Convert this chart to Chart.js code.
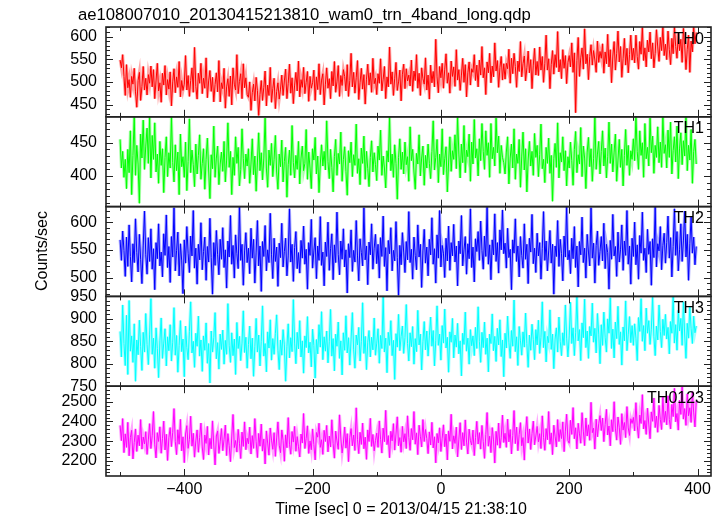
<!DOCTYPE html>
<html>
<head>
<meta charset="utf-8">
<title>ae108007010 WAM light curves</title>
<script src="https://cdn.jsdelivr.net/npm/chart.js@4.4.1/dist/chart.umd.min.js"></script>
<style>
  html, body { margin: 0; padding: 0; background: #fff; }
  #wrap { width: 724px; height: 516px; position: relative; }
</style>
</head>
<body>
<div id="wrap"><canvas id="lc-chart"></canvas></div>
<script>
// start: Data
const panelNames = ['TH0', 'TH1', 'TH2', 'TH3', 'TH0123']
const startTime = -500   // first bin [sec]
const binSize = 2        // bin width [sec]

const xTicks = [-400, -200, 0, 200, 400]
const th0Ticks = [450, 500, 550, 600]
const th1Ticks = [400, 450]
const th2Ticks = [500, 550, 600]
const th3Ticks = [750, 800, 850, 900, 950]
const th0123Ticks = [2200, 2300, 2400, 2500]

const th0Range = [423, 621]
const th1Range = [354, 489]
const th2Range = [466, 628]
const th3Range = [750, 950]
const th0123Range = [2122, 2580]

// counts/sec per bin, 25 bins (50 s) per row
const th0 = [
    548, 531, 560, 512, 470, 538, 487, 505, 466, 512, 495, 530, 478, 444, 503, 521, 459, 490, 534, 482, 508, 471, 516, 497, 535,
    489, 527, 463, 502, 541, 480, 498, 455, 519, 493, 536, 471, 505, 484, 522, 447, 500, 529, 476, 511, 488, 545, 467, 503, 481,
    495, 558, 482, 514, 468, 503, 531, 477, 576, 490, 462, 519, 497, 541, 474, 508, 486, 553, 465, 502, 525, 479, 510, 456, 494,
    520, 478, 547, 456, 498, 485, 530, 442, 489, 507, 468, 513, 449, 531, 495, 482, 560, 474, 501, 518, 463, 540, 487, 509, 472,
    466, 500, 437, 476, 495, 458, 510, 481, 426, 472, 503, 459, 488, 524, 447, 493, 470, 532, 455, 485, 508, 441, 479, 498, 462,
    484, 515, 470, 502, 528, 463, 497, 539, 475, 509, 452, 493, 521, 480, 546, 467, 505, 488, 532, 474, 499, 523, 457, 512, 486,
    498, 526, 459, 511, 483, 540, 472, 504, 518, 449, 495, 531, 486, 507, 463, 523, 491, 545, 477, 500, 536, 468, 514, 492, 527,
    512, 480, 538, 468, 503, 563, 489, 521, 475, 509, 547, 461, 498, 530, 484, 516, 451, 506, 539, 493, 520, 477, 552, 496, 508,
    472, 518, 497, 551, 480, 506, 534, 463, 511, 489, 577, 495, 522, 470, 508, 543, 481, 500, 526, 458, 517, 539, 485, 529, 502,
    515, 491, 548, 479, 524, 503, 560, 486, 519, 470, 531, 507, 495, 553, 482, 515, 462, 537, 498, 523, 489, 594, 511, 476, 534,
    509, 541, 486, 528, 562, 497, 520, 475, 546, 512, 533, 490, 571, 504, 527, 481, 515, 552, 499, 538, 467, 520, 544, 493, 529,
    521, 560, 503, 537, 489, 548, 515, 578, 509, 531, 472, 544, 520, 563, 498, 535, 511, 586, 524, 547, 488, 532, 556, 504, 540,
    506, 541, 529, 572, 497, 552, 518, 563, 534, 488, 546, 523, 589, 511, 540, 557, 502, 531, 568, 520, 549, 485, 537, 574, 515,
    545, 514, 577, 526, 556, 499, 541, 603, 526, 551, 485, 538, 569, 517, 560, 532, 611, 522, 549, 507, 571, 530, 558, 496, 543,
    558, 533, 586, 521, 564, 432, 547, 598, 512, 553, 575, 528, 617, 540, 561, 505, 556, 582, 537, 569, 548, 521, 590, 543, 567,
    552, 584, 519, 566, 540, 605, 533, 571, 498, 557, 589, 526, 563, 612, 544, 578, 510, 551, 596, 537, 574, 520, 560, 603, 548,
    574, 542, 603, 556, 528, 589, 561, 620, 547, 575, 533, 592, 566, 610, 551, 586, 531, 563, 615, 577, 545, 598, 569, 621, 558,
    583, 549, 612, 571, 538, 596, 562, 621, 578, 552, 607, 569, 594, 543, 618, 581, 527, 572, 603, 521, 590, 566, 621, 584, 609
]
const th1 = [
    455, 412, 437, 398, 425, 381, 440, 405, 468, 372, 431, 489, 401, 446, 418, 359, 463, 427, 484, 410, 445, 472, 419, 489, 397,
    461, 425, 480, 406, 433, 389, 452, 416, 441, 375, 428, 459, 399, 435, 412, 489, 420, 391, 447, 408, 436, 372, 463, 414, 429,
    398, 451, 378, 422, 486, 405, 439, 417, 384, 448, 403, 431, 462, 395, 419, 441, 380, 425, 457, 409, 366, 432, 411, 475, 398,
    427, 445, 387, 418, 436, 407, 452, 391, 424, 480, 413, 437, 372, 428, 401, 459, 419, 443, 385, 410, 471, 426, 396, 433, 415,
    441, 389, 418, 456, 402, 430, 377, 421, 465, 408, 435, 394, 427, 487, 412, 383, 439, 416, 449, 399, 425, 461, 406, 380, 433,
    414, 454, 391, 422, 443, 368, 417, 439, 401, 476, 420, 397, 431, 410, 452, 388, 427, 445, 408, 419, 470, 395, 436, 412, 381,
    441, 424, 458, 403, 430, 375, 418, 447, 415, 437, 409, 483, 422, 396, 440, 413, 376, 429, 455, 401, 434, 418, 466, 392, 425,
    444, 407, 371, 438, 420, 451, 399, 432, 416, 478, 404, 426, 387, 442, 419, 460, 395, 437, 411, 384, 428, 453, 406, 435, 417,
    393, 445, 424, 469, 401, 430, 412, 382, 438, 421, 489, 408, 433, 398, 447, 419, 365, 428, 456, 410, 436, 403, 451, 417, 429,
    392, 474, 423, 440, 406, 380, 434, 418, 462, 400, 427, 445, 386, 431, 412, 448, 419, 396, 437, 483, 409, 428, 455, 390, 433,
    414, 471, 402, 426, 444, 376, 421, 459, 407, 438, 425, 462, 411, 489, 433, 397, 448, 420, 476, 405, 439, 429, 463, 392, 451,
    418, 485, 427, 441, 400, 456, 423, 479, 437, 410, 468, 431, 450, 398, 479, 426, 443, 415, 487, 435, 460, 404, 446, 428, 420,
    403, 436, 459, 388, 427, 448, 412, 471, 395, 433, 419, 455, 383, 430, 466, 409, 441, 376, 424, 452, 415, 437, 401, 464, 428,
    446, 399, 432, 478, 411, 425, 390, 443, 419, 457, 404, 431, 362, 426, 449, 413, 480, 397, 435, 421, 459, 408, 438, 385, 429,
    412, 451, 423, 386, 440, 467, 405, 432, 418, 473, 399, 445, 427, 381, 436, 458, 414, 441, 392, 426, 489, 410, 433, 452, 403,
    437, 468, 415, 442, 397, 429, 481, 419, 448, 406, 436, 463, 392, 424, 455, 413, 440, 385, 431, 470, 416, 446, 401, 438, 425,
    456, 423, 489, 437, 410, 468, 431, 450, 398, 479, 426, 443, 415, 487, 435, 460, 404, 446, 428, 474, 420, 451, 413, 489, 434,
    447, 412, 469, 428, 481, 403, 438, 459, 421, 475, 396, 442, 465, 417, 453, 430, 489, 408, 446, 424, 470, 389, 437, 455, 418
]
const th2 = [
    568, 531, 584, 549, 502, 573, 520, 595, 538, 492, 561, 527, 606, 545, 510, 578, 533, 489, 557, 620, 541, 506, 572, 529, 588,
    515, 552, 478, 563, 534, 597, 521, 546, 501, 579, 540, 613, 518, 556, 491, 574, 537, 626, 512, 549, 582, 503, 561, 530, 471,
    568, 526, 592, 544, 509, 575, 539, 621, 517, 553, 488, 560, 532, 599, 514, 547, 573, 495, 556, 528, 607, 536, 470, 563, 522,
    585, 541, 505, 569, 533, 590, 518, 550, 481, 566, 537, 612, 524, 558, 499, 577, 543, 516, 628, 531, 560, 486, 548, 581, 527,
    553, 507, 589, 535, 569, 490, 546, 603, 521, 557, 475, 565, 538, 594, 512, 550, 527, 616, 541, 498, 571, 529, 555, 484, 562,
    536, 598, 519, 547, 571, 503, 539, 624, 528, 560, 493, 554, 583, 516, 545, 508, 567, 535, 593, 524, 551, 479, 563, 540, 605,
    517, 548, 572, 498, 557, 531, 610, 522, 546, 485, 564, 538, 600, 513, 552, 579, 496, 559, 527, 618, 542, 505, 566, 533, 588,
    519, 550, 472, 561, 536, 586, 511, 549, 528, 603, 539, 494, 570, 545, 521, 626, 532, 557, 487, 564, 541, 597, 515, 553, 578,
    525, 560, 499, 572, 538, 611, 520, 554, 476, 567, 543, 590, 512, 549, 530, 601, 536, 468, 558, 523, 581, 546, 509, 565, 532,
    619, 527, 551, 497, 573, 540, 514, 595, 537, 560, 482, 548, 587, 526, 555, 503, 569, 541, 608, 524, 552, 490, 577, 535, 621,
    519, 558, 544, 500, 571, 530, 593, 513, 563, 539, 596, 528, 557, 485, 566, 543, 612, 521, 550, 574, 506, 561, 534, 624, 518,
    555, 492, 570, 547, 583, 531, 602, 549, 515, 575, 538, 627, 524, 559, 496, 568, 541, 615, 529, 563, 508, 586, 550, 622, 543,
    562, 517, 589, 536, 551, 478, 568, 544, 606, 529, 557, 501, 574, 540, 517, 597, 533, 560, 489, 571, 546, 614, 525, 553, 509,
    580, 539, 563, 497, 552, 619, 531, 566, 512, 548, 585, 526, 560, 470, 557, 538, 603, 520, 569, 543, 494, 575, 537, 628, 532,
    549, 507, 571, 534, 592, 518, 557, 483, 565, 541, 609, 527, 553, 499, 578, 546, 521, 626, 535, 562, 490, 558, 584, 522, 547,
    574, 530, 598, 516, 560, 545, 479, 567, 533, 614, 539, 556, 502, 582, 528, 550, 595, 513, 566, 540, 621, 524, 557, 488, 571,
    538, 600, 523, 559, 497, 576, 544, 618, 531, 553, 509, 587, 542, 565, 486, 570, 536, 627, 519, 561, 548, 592, 514, 558, 580,
    526, 563, 611, 535, 572, 501, 556, 624, 540, 583, 512, 550, 597, 529, 566, 620, 537, 578, 495, 561, 609, 544, 573, 523, 556
]
const th3 = [
    872, 815, 931, 845, 796, 908, 776, 941, 828, 862, 803, 889, 761, 853, 820, 897, 838, 785, 870, 826, 912, 843, 798, 866, 945,
    821, 857, 790, 880, 834, 769, 851, 902, 812, 846, 878, 795, 860, 829, 887, 806, 848, 925, 819, 863, 781, 841, 896, 827, 855,
    771, 884, 836, 809, 872, 938, 824, 850, 792, 868, 839, 906, 817, 853, 783, 862, 830, 891, 801, 845, 757, 873, 826, 858, 914,
    811, 847, 788, 866, 832, 875, 799, 852, 821, 934, 840, 803, 869, 818, 855, 776, 892, 834, 861, 807, 846, 918, 825, 859, 790,
    843, 884, 811, 857, 772, 838, 901, 826, 864, 795, 850, 929, 817, 845, 782, 871, 835, 898, 808, 856, 821, 867, 909, 830, 787,
    853, 819, 876, 842, 761, 838, 889, 813, 858, 827, 943, 846, 800, 870, 833, 896, 815, 851, 779, 862, 836, 905, 824, 848, 793,
    877, 841, 768, 854, 822, 887, 837, 916, 809, 860, 828, 873, 802, 849, 921, 817, 856, 784, 866, 839, 893, 812, 851, 775, 869,
    830, 907, 824, 858, 797, 855, 914, 831, 790, 864, 842, 881, 806, 850, 936, 823, 861, 787, 848, 874, 815, 859, 831, 902, 819,
    846, 878, 801, 863, 834, 949, 826, 857, 780, 870, 841, 896, 818, 852, 765, 867, 837, 910, 829, 861, 884, 823, 858, 932, 845,
    806, 869, 838, 883, 799, 856, 827, 919, 842, 866, 786, 849, 894, 831, 873, 817, 862, 904, 839, 874, 795, 852, 929, 841, 866,
    808, 885, 846, 922, 835, 859, 781, 871, 848, 901, 813, 864, 837, 890, 822, 851, 773, 868, 843, 915, 828, 857, 799, 876, 840,
    862, 818, 881, 834, 927, 849, 803, 870, 836, 893, 821, 857, 782, 866, 845, 911, 829, 861, 805, 879, 842, 898, 816, 853, 771,
    868, 835, 906, 848, 812, 874, 839, 942, 827, 860, 796, 883, 851, 819, 871, 837, 913, 845, 792, 864, 830, 888, 854, 809, 876,
    842, 897, 823, 859, 938, 836, 872, 804, 861, 847, 920, 832, 866, 789, 855, 880, 826, 904, 850, 818, 869, 841, 931, 857, 815,
    862, 937, 845, 880, 818, 869, 949, 851, 876, 807, 891, 858, 944, 836, 873, 812, 883, 862, 935, 848, 879, 824, 912, 866, 800,
    887, 841, 915, 859, 826, 900, 868, 947, 834, 877, 813, 893, 856, 928, 843, 871, 797, 882, 851, 940, 829, 866, 905, 847, 885,
    841, 889, 857, 807, 903, 872, 945, 850, 885, 829, 924, 868, 896, 843, 877, 948, 860, 818, 884, 853, 931, 872, 836, 899, 863,
    910, 855, 881, 822, 894, 868, 949, 846, 887, 830, 919, 873, 901, 841, 938, 864, 812, 890, 857, 927, 878, 845, 906, 869, 884
]
const th0123 = [
    2380, 2302, 2415, 2241, 2337, 2268, 2396, 2225, 2318, 2355, 2209, 2293, 2362, 2247, 2330, 2276, 2410, 2259, 2321, 2285, 2348, 2232, 2306, 2389, 2262,
    2327, 2451, 2281, 2214, 2343, 2298, 2373, 2238, 2312, 2402, 2255, 2335, 2201, 2317, 2369, 2272, 2345, 2466, 2297, 2231, 2358, 2284, 2411, 2250, 2322,
    2190, 2336, 2379, 2263, 2308, 2427, 2274, 2340, 2218, 2301, 2357, 2243, 2319, 2392, 2270, 2206, 2331, 2288, 2375, 2229, 2314, 2261, 2403, 2280, 2178,
    2326, 2352, 2237, 2296, 2364, 2251, 2309, 2382, 2226, 2338, 2277, 2195, 2321, 2436, 2267, 2303, 2244, 2360, 2289, 2211, 2346, 2273, 2398, 2256, 2315,
    2286, 2371, 2234, 2328, 2263, 2415, 2297, 2216, 2339, 2274, 2387, 2249, 2311, 2183, 2352, 2290, 2228, 2367, 2305, 2258, 2343, 2222, 2316, 2398, 2279,
    2241, 2357, 2304, 2197, 2332, 2266, 2420, 2284, 2233, 2349, 2295, 2375, 2248, 2323, 2271, 2219, 2336, 2290, 2441, 2262, 2313, 2378, 2237, 2301, 2256,
    2362, 2282, 2204, 2344, 2320, 2391, 2268, 2307, 2232, 2355, 2298, 2380, 2245, 2326, 2270, 2409, 2288, 2213, 2351, 2301, 2258, 2434, 2316, 2239, 2290,
    2372, 2264, 2338, 2195, 2319, 2364, 2276, 2331, 2252, 2470, 2307, 2236, 2345, 2283, 2392, 2261, 2320, 2207, 2357, 2298, 2416, 2273, 2334, 2250, 2303,
    2341, 2268, 2403, 2309, 2239, 2366, 2297, 2457, 2282, 2328, 2215, 2350, 2301, 2389, 2254, 2336, 2424, 2276, 2318, 2243, 2375, 2296, 2338, 2262, 2429,
    2319, 2253, 2364, 2307, 2451, 2284, 2342, 2231, 2381, 2325, 2270, 2410, 2298, 2359, 2313, 2236, 2347, 2280, 2396, 2265, 2322, 2189, 2339, 2291, 2368,
    2247, 2315, 2383, 2271, 2336, 2204, 2352, 2299, 2437, 2260, 2327, 2288, 2371, 2219, 2310, 2394, 2257, 2343, 2276, 2408, 2295, 2234, 2361, 2302, 2280,
    2356, 2226, 2318, 2401, 2285, 2343, 2259, 2380, 2297, 2212, 2333, 2446, 2274, 2325, 2241, 2369, 2306, 2188, 2350, 2279, 2392, 2264, 2317, 2433, 2293,
    2340, 2268, 2412, 2296, 2359, 2235, 2328, 2456, 2287, 2371, 2251, 2333, 2394, 2276, 2318, 2203, 2347, 2425, 2290, 2362, 2257, 2338, 2402, 2281, 2326,
    2375, 2296, 2338, 2262, 2429, 2319, 2253, 2364, 2307, 2451, 2284, 2342, 2231, 2381, 2325, 2270, 2410, 2298, 2359, 2313, 2398, 2246, 2351, 2437, 2303,
    2289, 2406, 2334, 2471, 2312, 2368, 2260, 2391, 2337, 2289, 2445, 2351, 2277, 2418, 2326, 2383, 2304, 2498, 2343, 2366, 2259, 2412, 2322, 2388, 2430,
    2354, 2418, 2297, 2385, 2462, 2331, 2377, 2276, 2409, 2348, 2501, 2362, 2305, 2423, 2371, 2283, 2440, 2356, 2395, 2318, 2476, 2367, 2329, 2414, 2390,
    2421, 2352, 2496, 2378, 2315, 2433, 2390, 2537, 2362, 2405, 2334, 2468, 2387, 2312, 2449, 2401, 2520, 2369, 2427, 2345, 2482, 2410, 2359, 2528, 2396,
    2452, 2383, 2531, 2410, 2362, 2487, 2425, 2569, 2398, 2441, 2356, 2508, 2436, 2577, 2412, 2466, 2380, 2541, 2429, 2470, 2395, 2553, 2448, 2372, 2506
]
// end: Data

const times = th0.map((v, i) => startTime + i * binSize)

const series = [th0, th1, th2, th3, th0123]
const panelTicks = [th0Ticks, th1Ticks, th2Ticks, th3Ticks, th0123Ticks]
const panelRanges = [th0Range, th1Range, th2Range, th3Range, th0123Range]
const panelColors = ['#ff0000', '#00ff00', '#0000ff', '#00ffff', '#ff00ff']
const panelTints = ['rgba(255,0,0,0.35)', 'rgba(0,255,0,0.35)', 'rgba(0,0,255,0.35)', 'rgba(0,255,255,0.35)', 'rgba(255,0,255,0.35)']
const minorSteps = [10, 10, 10, 10, 20]
const panelIds = panelNames.map((n, i) => 'y' + i)

const fontFamily = '"Liberation Sans", Arial, Helvetica, sans-serif'
Chart.defaults.font.family = fontFamily
Chart.defaults.font.size = 16
Chart.defaults.color = '#000'

// start: Frame, inner ticks and labels (qdp style)
const qdpFrame = {
    id: 'qdpFrame',
    afterDraw(chart) {
        const ctx = chart.ctx
        const area = chart.chartArea
        const xScale = chart.scales.x
        ctx.save()

        panelIds.forEach((id, i) => {
            const s = chart.scales[id]
            const top = s.top
            const bottom = s.bottom

            ctx.strokeStyle = '#222'
            ctx.lineWidth = 1
            ctx.beginPath()
            for (let t = -500; t <= 400; t += 100) {
                const px = Math.round(xScale.getPixelForValue(t)) + 0.5
                const len = t % 200 === 0 ? 7 : 4
                ctx.moveTo(px, bottom)
                ctx.lineTo(px, bottom - len)
                ctx.moveTo(px, top)
                ctx.lineTo(px, top + len)
            }
            const step = minorSteps[i]
            const majors = panelTicks[i]
            for (let v = Math.ceil(s.min / step) * step; v <= s.max; v += step) {
                const py = Math.round(s.getPixelForValue(v)) + 0.5
                const len = majors.includes(v) ? 7 : 4
                ctx.moveTo(area.left, py)
                ctx.lineTo(area.left + len, py)
                ctx.moveTo(area.right, py)
                ctx.lineTo(area.right - len, py)
            }
            ctx.stroke()

            ctx.lineWidth = 1.6
            ctx.strokeRect(area.left, top, area.right - area.left, bottom - top)

            ctx.fillStyle = '#000'
            ctx.font = '16px ' + fontFamily
            ctx.textAlign = 'right'
            ctx.textBaseline = 'alphabetic'
            ctx.fillText(panelNames[i], area.right - 7, top + 16.5)
        })

        ctx.fillStyle = '#000'
        ctx.font = '16.7px ' + fontFamily
        ctx.textAlign = 'left'
        ctx.fillText('ae108007010_20130415213810_wam0_trn_4band_long.qdp', 78, 20)

        ctx.font = '16px ' + fontFamily
        ctx.textAlign = 'center'
        ctx.fillText('Time [sec] 0 = 2013/04/15 21:38:10', 401, 514)

        ctx.translate(47, 251)
        ctx.rotate(-Math.PI / 2)
        ctx.fillText('Counts/sec', 0, 0)
        ctx.restore()
    }
}
// end: Frame

// start: Chart
const yScales = {}
panelIds.forEach((id, i) => {
    yScales[id] = {
        type: 'linear',
        position: 'left',
        stack: 'panels',
        stackWeight: 1,
        weight: panelIds.length - i,
        min: panelRanges[i][0],
        max: panelRanges[i][1],
        afterBuildTicks: scale => { scale.ticks = panelTicks[i].map(v => ({ value: v })) },
        afterFit: scale => { scale.width = 106 },
        grid: { display: false, drawTicks: false },
        border: { display: false },
        ticks: { autoSkip: false, padding: 9, callback: v => String(v) }
    }
})

// light underlay (error-bar tint) + saturated line on top
const datasets = []
series.forEach((values, i) => {
    const points = values.map((v, k) => ({ x: times[k], y: v }))
    datasets.push({
        label: panelNames[i] + ' tint',
        yAxisID: panelIds[i],
        data: points,
        borderColor: panelTints[i],
        borderWidth: 3,
        pointRadius: 0,
        tension: 0,
        order: 2
    })
    datasets.push({
        label: panelNames[i],
        yAxisID: panelIds[i],
        data: points,
        borderColor: panelColors[i],
        borderWidth: 1,
        pointRadius: 0,
        tension: 0,
        order: 1
    })
})

const lcChart = new Chart(document.getElementById('lc-chart'), {
    type: 'line',
    data: { datasets: datasets },
    options: {
        responsive: true,
        maintainAspectRatio: false,
        animation: false,
        events: [],
        layout: { padding: { top: 27, right: 13, bottom: 10, left: 0 } },
        plugins: {
            legend: { display: false },
            tooltip: { enabled: false }
        },
        scales: Object.assign({
            x: {
                type: 'linear',
                min: -522,
                max: 421,
                afterBuildTicks: scale => { scale.ticks = xTicks.map(v => ({ value: v })) },
                afterFit: scale => { scale.height = 30 },
                grid: { display: false, drawTicks: false },
                border: { display: false },
                ticks: { autoSkip: false, maxRotation: 0, padding: 4, callback: v => String(v).replace('-', '\u2212') }
            }
        }, yScales)
    },
    plugins: [qdpFrame]
})
// end: Chart
</script>
</body>
</html>
